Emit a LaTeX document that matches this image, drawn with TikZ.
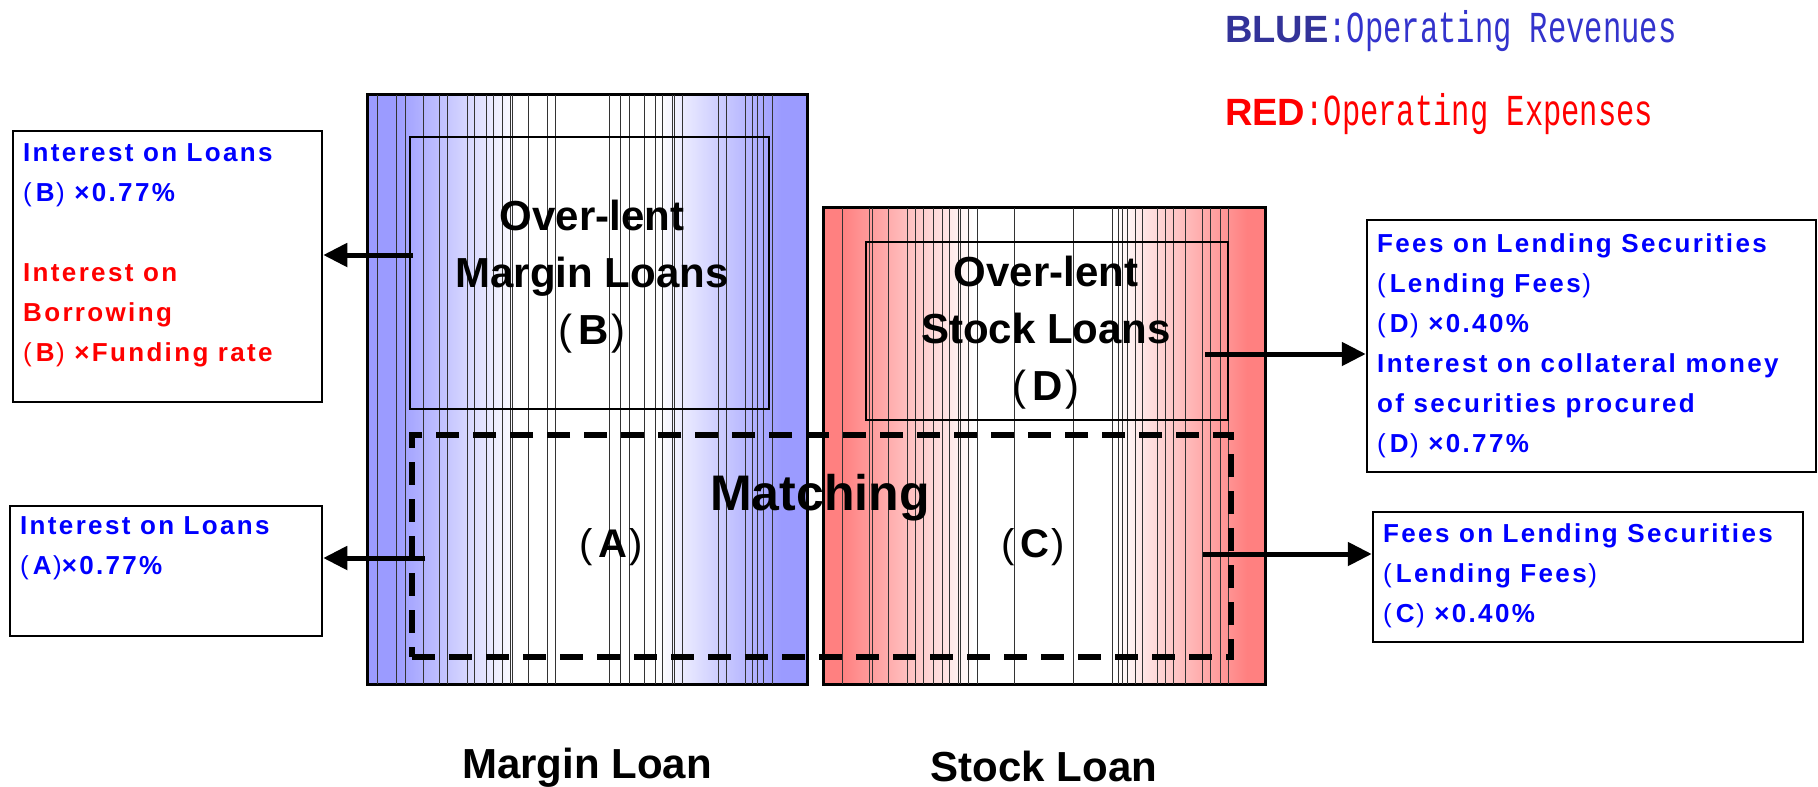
\documentclass[tikz,border=0pt]{standalone}
\usepackage{fontspec}
\usepackage{graphicx}
\setmainfont{Liberation Sans}
\newfontfamily\spaced{Liberation Sans}[LetterSpace=9]
\newfontfamily\legmono{Liberation Mono}
\usetikzlibrary{arrows.meta}
\definecolor{colblue}{RGB}{155,155,255}
\definecolor{colred}{RGB}{255,128,128}
\definecolor{legblue}{RGB}{51,51,153}
\definecolor{legtext}{RGB}{51,51,204}
\pgfdeclarehorizontalshading{bluecol}{100bp}{color(0bp)=(colblue); color(28bp)=(colblue); color(42bp)=(white); color(58bp)=(white); color(72bp)=(colblue); color(100bp)=(colblue)}
\pgfdeclarehorizontalshading{redcol}{100bp}{color(0bp)=(colred); color(27bp)=(colred); color(42bp)=(white); color(58bp)=(white); color(73bp)=(colred); color(100bp)=(colred)}
\newcommand\lp{{\mdseries(}\kern.15em}
\newcommand\rp{\kern.06em{\mdseries)}}
\begin{document}
\begin{tikzpicture}[x=1pt, y=-1pt,
    colbox/.style={draw, line width=2pt, inner sep=0pt},
    subbox/.style={draw, line width=2pt, inner sep=0pt},
    match/.style={draw, line width=5.5pt, dash pattern=on 23pt off 14pt, inner sep=0pt},
    txtbox/.style={draw, line width=2.5pt, inner sep=0pt},
    btext/.style={anchor=north west, inner sep=0pt, align=left, font=\spaced\bfseries\fontsize{26}{40}\selectfont},
    big/.style={align=center, inner sep=0pt, font=\bfseries\fontsize{42}{57}\selectfont},
    vline/.style={line width=0.8pt, black!80},
    legword/.style={anchor=base west, inner sep=0pt},
    arr/.style={line width=5pt, -{Triangle[length=24pt,width=23pt]}}]
    \useasboundingbox (0,0) rectangle (1818,787);
    % the two columns
    \node [colbox, shading=bluecol, minimum width=439pt, minimum height=589pt] (mcol) at (587.5,389.5) {};
    \node [colbox, shading=redcol, minimum width=441pt, minimum height=476pt] (scol) at (1044.5,446) {};
    \foreach \x in {377,396,405,423,439,447,467,474,486,493,502,510,512,528,547,555,609,620,629,644,655,662,672,674,682,718,726,745,752,757,763,772}
        \draw [vline] (\x,95) -- (\x,684);
    \foreach \x in {842,869,872,888,907,915,923,933,942,949,958,960,968,977,1014,1073,1112,1118,1122,1127,1135,1142,1157,1165,1173,1185,1202,1210,1220,1228}
        \draw [vline] (\x,208) -- (\x,684);
    \draw [line width=2pt] (mcol.north west) rectangle (mcol.south east);
    \draw [line width=2pt] (scol.north west) rectangle (scol.south east);
    % inner boxes
    \node [subbox, minimum width=359pt, minimum height=272pt] (bbox) at (589.5,273) {};
    \node [subbox, minimum width=362pt, minimum height=178pt] (dbox) at (1047,331) {};
    \node [match, minimum width=819pt, minimum height=222pt] (mbox) at (821.5,546) {};
    \node [big] (tB) at (592,277) {Over-lent\\Margin Loans\\\lp B\rp};
    \node [big] (tD) at (1046,333) {Over-lent\\Stock Loans\\\lp D\rp};
    \node [anchor=base, inner sep=0pt, font=\bfseries\fontsize{50}{60}\selectfont] (tM) at (820,510) {Matching};
    \node [anchor=base, inner sep=0pt, font=\bfseries\fontsize{40}{48}\selectfont] (tA) at (611,557) {\lp A\rp};
    \node [anchor=base, inner sep=0pt, font=\bfseries\fontsize{40}{48}\selectfont] (tC) at (1033,557) {\lp C\rp};
    \node [anchor=base, inner sep=0pt, font=\bfseries\fontsize{42}{50}\selectfont] (lm) at (587,778) {Margin Loan};
    \node [anchor=base, inner sep=0pt, font=\bfseries\fontsize{42}{50}\selectfont] (ls) at (1044,781) {Stock Loan};
    % text boxes
    \node [txtbox, minimum width=309pt, minimum height=271pt] (lbox1) at (167.5,266.5) {};
    \node [txtbox, minimum width=312pt, minimum height=130pt] (lbox2) at (166,571) {};
    \node [txtbox, minimum width=449pt, minimum height=252pt] (rbox1) at (1591.5,346) {};
    \node [txtbox, minimum width=430pt, minimum height=130pt] (rbox2) at (1588,577) {};
    \node [btext] (tl1) at (23,143) {\textcolor{blue}{Interest on Loans}\\
        \textcolor{blue}{\lp B\rp{} ×0.77\%}\\ \mbox{}\\
        \textcolor{red}{Interest on}\\ \textcolor{red}{Borrowing}\\
        \textcolor{red}{\lp B\rp{} ×Funding rate}};
    \node [btext, text=blue] (tl2) at (20,516) {Interest on Loans\\\lp A\rp×0.77\%};
    \node [btext, text=blue] (tr1) at (1377,233) {Fees on Lending Securities\\
        \lp Lending Fees\rp\\ \lp D\rp{} ×0.40\%\\ Interest on collateral money\\
        of securities procured\\ \lp D\rp{} ×0.77\%};
    \node [btext, text=blue] (tr2) at (1383,523) {Fees on Lending Securities\\
        \lp Lending Fees\rp\\ \lp C\rp{} ×0.40\%};
    % arrows
    \coordinate (aB) at (413,255);
    \coordinate (aA) at (425,558);
    \coordinate (aD) at (1205,354);
    \coordinate (aC) at (1203,554);
    \draw [arr] (aB) -- (lbox1.east |- aB);
    \draw [arr] (aA) -- (lbox2.east |- aA);
    \draw [arr] (aD) -- (rbox1.west |- aD);
    \draw [arr] (aC) -- (rbox2.west |- aC);
    % legend
    \node [legword] (legB) at (1225,42) {\textcolor{legblue}{\bfseries\fontsize{38}{40}\selectfont BLUE}\textcolor{legtext}{\scalebox{1}[1.45]{\legmono\fontsize{30.5}{32}\selectfont :Operating Revenues}}};
    \node [legword] (legR) at (1225,125) {\textcolor{red}{\bfseries\fontsize{38}{40}\selectfont RED}\textcolor{red}{\scalebox{1}[1.45]{\legmono\fontsize{30.5}{32}\selectfont :Operating Expenses}}};
\end{tikzpicture}
\end{document}
